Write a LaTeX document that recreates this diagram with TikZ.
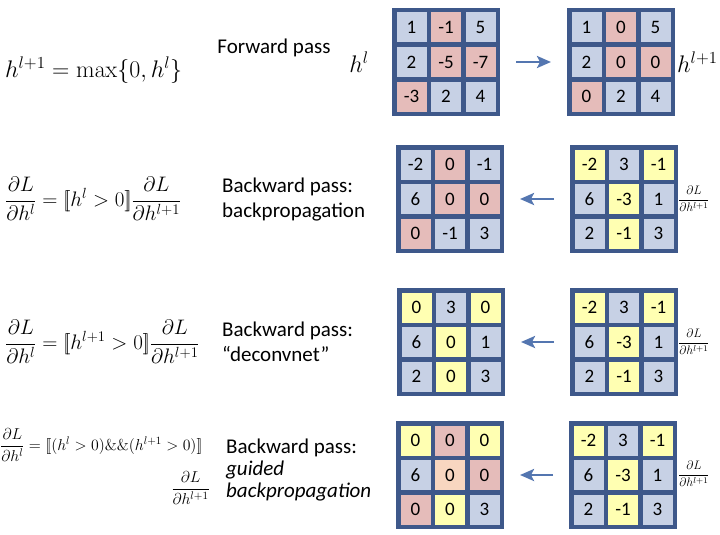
\RequirePackage{fix-cm}
\documentclass[tikz,border=0pt]{standalone}
\usepackage{amsmath,amssymb}
\usepackage[no-math]{fontspec}
\setmainfont{Carlito}
\usepackage{tikz}
\usetikzlibrary{arrows.meta}

\definecolor{zblau}{RGB}{199,209,229}
\definecolor{zrot}{RGB}{229,188,186}
\definecolor{zgelb}{RGB}{255,255,178}
\definecolor{zorange}{RGB}{248,214,192}
\definecolor{rand}{RGB}{62,88,138}
\definecolor{pfeil}{RGB}{84,118,176}

% Feld aus 3x3 Zellen: Name, x, y (linke obere Ecke), Zellen Farbe/Wert
\newcommand{\fmap}[4]{%
  \foreach \farbe/\wert [count=\i from 0] in {#4} {
    \pgfmathtruncatemacro\spalte{mod(\i,3)}
    \pgfmathtruncatemacro\zeile{div(\i,3)}
    \node[zelle,fill=\farbe] (#1-\i) at ({#2+2.25+\spalte*34.5+17.25},{#3+2.25+\zeile*34.5+17.25}) {\wert};
  }
  \node[feld] (#1) at ({#2+54},{#3+54}) {};
}

\begin{document}
\begin{tikzpicture}[x=1pt,y=-1pt,>={Stealth[length=14pt,width=12pt,inset=3pt]},
    zelle/.style={draw=rand,line width=4.5pt,minimum size=34.5pt,inner sep=0pt,font=\fontsize{19}{21}\selectfont},
    feld/.style={draw=rand,line width=4.5pt,minimum size=103.5pt,inner sep=0pt},
    pfeilstil/.style={->,draw=pfeil,line width=2.6pt,shorten <=16pt,shorten >=16pt},
    formel/.style={inner sep=0pt,font=\fontsize{21}{25}\selectfont},
    klein/.style={inner sep=0pt,font=\fontsize{15.8}{18}\selectfont},
    winzig/.style={inner sep=0pt,font=\fontsize{12.3}{14}\selectfont},
    beschr/.style={inner sep=0pt,align=left,font=\fontsize{21}{25}\selectfont}]
  \useasboundingbox (0,0) rectangle (720,535);

  % Vorwaerts
  \fmap{G1}{392}{8}{zblau/1,zrot/-1,zblau/5,zblau/2,zrot/-5,zrot/-7,zrot/-3,zblau/2,zblau/4}
  \fmap{G2}{567}{8}{zblau/1,zrot/0,zblau/5,zblau/2,zrot/0,zrot/0,zrot/0,zblau/2,zblau/4}
  \draw[pfeilstil] (G1) -- (G2);
  \node[formel,anchor=west,font=\fontsize{24}{28}\selectfont] (f1) at (5,70) {$h^{l+1} = \max\{0,h^l\}$};
  \node[beschr] (t1) at (274,48) {Forward pass};
  \node[formel,font=\fontsize{24}{28}\selectfont] (hl) at (359,62) {$h^l$};
  \node[formel,anchor=west,font=\fontsize{24}{28}\selectfont] (hl1) at (677,62) {$h^{l+1}$};

  % Backpropagation
  \fmap{G3}{396}{145}{zblau/-2,zrot/0,zblau/-1,zblau/6,zrot/0,zrot/0,zrot/0,zblau/-1,zblau/3}
  \fmap{G4}{570}{145}{zgelb/-2,zblau/3,zgelb/-1,zblau/6,zgelb/-3,zblau/1,zblau/2,zgelb/-1,zblau/3}
  \draw[pfeilstil] (G4) -- (G3);
  \node[formel,anchor=west] (f2) at (5,199) {$\dfrac{\partial L}{\partial h^l} = [\![h^l > 0]\!]\dfrac{\partial L}{\partial h^{l+1}}$};
  \node[beschr,anchor=west] (t2) at (222,200) {Backward pass:\\backpropagation};
  \node[winzig,anchor=west] (d2) at (678,199) {$\dfrac{\partial L}{\partial h^{l+1}}$};

  % deconvnet
  \fmap{G5}{397}{288}{zgelb/0,zblau/3,zgelb/0,zblau/6,zgelb/0,zblau/1,zblau/2,zgelb/0,zblau/3}
  \fmap{G6}{570}{288}{zgelb/-2,zblau/3,zgelb/-1,zblau/6,zgelb/-3,zblau/1,zblau/2,zgelb/-1,zblau/3}
  \draw[pfeilstil] (G6) -- (G5);
  \node[formel,anchor=west] (f3) at (5,342) {$\dfrac{\partial L}{\partial h^l} = [\![h^{l+1} > 0]\!]\dfrac{\partial L}{\partial h^{l+1}}$};
  \node[beschr,anchor=west] (t3) at (222,342) {Backward pass:\\“deconvnet”};
  \node[winzig,anchor=west] (d3) at (678,342) {$\dfrac{\partial L}{\partial h^{l+1}}$};

  % guided backpropagation
  \fmap{G7}{396}{421}{zgelb/0,zrot/0,zgelb/0,zblau/6,zorange/0,zrot/0,zrot/0,zgelb/0,zblau/3}
  \fmap{G8}{569}{421}{zgelb/-2,zblau/3,zgelb/-1,zblau/6,zgelb/-3,zblau/1,zblau/2,zgelb/-1,zblau/3}
  \draw[pfeilstil] (G8) -- (G7);
  \node[klein,anchor=west] (f4) at (0,445) {$\dfrac{\partial L}{\partial h^l} = [\![(h^l > 0)\&\&(h^{l+1} > 0)]\!]$};
  \node[klein,anchor=east] (f4b) at (210,488) {$\dfrac{\partial L}{\partial h^{l+1}}$};
  \node[beschr,anchor=west,font=\fontsize{21}{22}\selectfont] (t4) at (226,470) {Backward pass:\\\textit{guided}\\\textit{backpropagation}};
  \node[winzig,anchor=west] (d4) at (678,474) {$\dfrac{\partial L}{\partial h^{l+1}}$};
\end{tikzpicture}
\end{document}
